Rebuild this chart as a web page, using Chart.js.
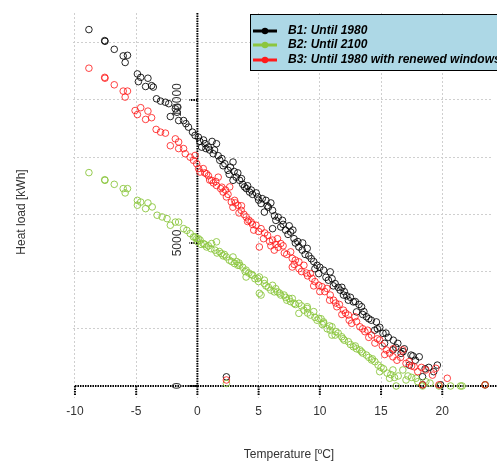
<!DOCTYPE html>
<html>
<head>
<meta charset="utf-8">
<script src="https://cdn.jsdelivr.net/npm/chart.js@4/dist/chart.umd.min.js"></script>
<style>
  html, body { margin: 0; padding: 0; background: #fff; }
  #wrap { width: 497px; height: 463px; position: relative; }
</style>
</head>
<body>
<div id="wrap"><canvas id="heatChart"></canvas></div>
<script>
// Daily heat load against outdoor temperature, three building variants
const b1Temp = [-8.86, -7.57, -7.55, -6.79, -6.06, -5.71, -5.9, -4.9, -4.63, -4.82, -4.04, -4.23, -3.74, -3.6, -3.34, -3.01, -2.61, -2.34, -2.21, -1.8, -1.67, -1.6, -1.53, -1.13, -0.94, -0.73, -0.4, -0.19, 0.08, 0.35, 0.62, 0.89, 1.56, 1.29, 1.83, 2.24, 2.91, 2.5, 3.17, 3.45, 2.91, 3.85, 4.26, 4.93, 5.6, 5.2, 5.47, 6.14, 6.41, 6.95, 6.81, 6.14, 7.62, 7.89, 8.29, 8.97, 8.56, 9.77, 9.91, 10.31, 10.85, 11.25, 11.66, 11.93, 12.33, 12.74, 13.41, 13.0, 13.81, 14.62, 14.48, 15.16, 15.29, 16.37, 15.97, 16.64, 17.45, 18.12, 19.6, 17.31, 18.39, 19.87, 23.5, 18.39, 2.37,
  0.5, 1.0, 1.2, 2.0, 2.6, 3.0, 3.7, 4.0, 4.5, 5.0, 5.8, 6.3, 7.2, 7.5, 8.0, 8.8, 9.3, 9.6, 10.5, 11.0, 11.5, 12.0, 12.5, 13.2, 13.6, 14.0, 14.9, 15.6, 16.0, 16.9, 17.8, 18.6,
  0.2, 0.7, 1.4, 1.7, 2.1, 2.7, 3.3, 3.6, 4.1, 4.4, 4.8, 5.3, 5.7, 6.0, 6.6, 7.0, 7.4, 7.8, 8.2, 8.6, 9.1, 9.5, 10.0, 10.7, 11.1, 11.8, 12.2, 12.9, 13.5, 14.2, 14.7, 15.4, 16.2, 16.8, 17.6, 18.9, 19.3];
const b1Load = [12460, 12075, 12050, 11770, 11540, 11560, 11310, 10910, 10790, 10640, 10760, 10470, 10500, 10450, 10040, 9960, 9920, 9870, 9420, 9690, 9570, 9750, 9280, 9280, 9170, 9050, 8875, 8760, 8700, 8350, 8470, 8350, 8470, 8120, 7890, 7770, 7830, 7540, 7300, 7190, 7190, 6960, 6780, 6610, 6490, 6380, 6080, 6140, 5790, 5790, 5560, 5500, 5380, 5150, 4860, 4810, 4750, 4220, 3930, 4050, 3990, 3580, 3350, 3180, 3000, 2940, 2770, 2590, 2420, 2240, 1950, 1840, 1490, 1490, 1260, 1140, 1080, 1020, 730, 730, 325, 40, 40, 40, 320,
  8600, 8250, 8550, 7950, 7400, 7500, 7050, 6900, 6700, 6500, 6250, 5950, 5450, 5600, 5000, 4600, 4450, 4100, 3800, 3750, 3450, 3300, 3100, 2850, 2600, 2350, 2050, 1700, 1600, 1300, 900, 600,
  8550, 8300, 8250, 8050, 7700, 7650, 7450, 7250, 7000, 6850, 6750, 6550, 6300, 6400, 5900, 5650, 5300, 5450, 5050, 5000, 4550, 4350, 4150, 3700, 3500, 3450, 3150, 2950, 2500, 2300, 2000, 1850, 1350, 1200, 1050, 650, 500];

const b2Temp = [-8.86, -7.57, -7.55, -6.79, -6.06, -5.71, -5.9, -4.9, -4.63, -4.9, -4.04, -4.23, -3.69, -3.29, -2.88, -2.48, -2.21, -1.8, -1.53, -1.13, -0.86, -0.59, -0.32, -0.06, 0.22, -0.19, 0.08, 0.48, 0.75, 1.16, 1.56, 1.43, 1.96, 2.37, 2.91, 3.04, 3.45, 3.98, 4.52, 5.06, 5.47, 5.06, 6.14, 6.54, 7.08, 7.75, 8.29, 8.97, 3.31, 3.98, 4.93, 5.47, 5.2, 6.28, 6.81, 7.49, 7.89, 8.29, 8.97, 9.23, 9.77, 10.31, 10.85, 10.99, 9.91, 10.31, 10.99, 11.25, 11.79, 12.33, 12.74, 13.27, 13.81, 14.22, 14.76, 14.89, 15.7, 15.97, 16.78, 17.04, 17.85, 18.66, 16.24, 18.39, 19.73, 20.68, 21.49, 21.62, 23.5, 2.37,
  0.3, 0.9, 1.8, 2.2, 2.6, 3.2, 3.7, 4.2, 4.7, 5.8, 6.4, 7.2, 7.6, 8.5, 9.5, 10.1, 10.6, 11.5, 12.0, 12.5, 13.0, 13.5, 14.0, 14.5, 15.2, 15.5, 16.4, 17.5,
  0.0, 0.6, 1.1, 1.6, 2.1, 2.8, 3.4, 3.9, 4.4, 5.0, 5.6, 6.0, 6.7, 7.3, 8.0, 8.7, 9.0, 9.6, 10.2, 10.8, 11.3, 11.9, 12.9, 13.4, 14.3, 15.0, 15.8, 16.1, 17.2, 18.0, 19.0];
const b2Load = [7460, 7210, 7190, 7050, 6900, 6900, 6750, 6490, 6430, 6320, 6400, 6200, 6260, 5970, 5910, 5850, 5620, 5730, 5730, 5500, 5440, 5330, 5210, 5150, 5100, 5210, 5150, 4980, 4860, 4980, 5040, 4750, 4630, 4510, 4510, 4280, 4220, 4050, 3870, 3810, 3700, 3240, 3520, 3290, 3180, 3060, 2890, 2770, 4220, 3810, 3760, 3580, 3180, 3290, 3180, 3060, 2890, 2540, 2710, 2480, 2300, 2190, 1950, 1780, 2360, 2240, 2070, 1780, 1720, 1550, 1370, 1260, 1080, 910, 730, 500, 270, 560, 560, 210, 270, 150, 0, 0, 0, 0, 0, 0, 40, 90,
  4950, 4900, 4700, 4600, 4400, 4350, 4150, 3950, 3750, 3450, 3400, 3100, 2950, 2800, 2600, 2350, 2000, 1850, 1600, 1450, 1300, 1150, 1000, 850, 600, 450, 350, 300,
  5050, 4950, 4800, 4650, 4550, 4350, 4300, 4000, 3900, 3650, 3500, 3350, 3250, 3000, 2850, 2650, 2550, 2400, 2150, 2100, 1900, 1650, 1400, 1200, 950, 650, 400, 300, 350, 150, 100];

const b3Temp = [-8.86, -7.57, -7.55, -6.79, -6.06, -5.71, -5.9, -5.09, -4.63, -4.9, -4.04, -4.23, -3.74, -3.37, -3.01, -2.61, -2.21, -1.8, -1.53, -1.53, -1.13, -0.99, -0.59, -0.32, -0.06, 0.22, -0.19, 0.48, 0.75, 1.16, 1.7, 1.56, 2.1, 2.64, 2.37, 2.77, 3.31, 3.04, 3.58, 3.98, 4.39, 4.79, 5.2, 5.06, 5.73, 6.28, 6.14, 6.81, 6.54, 7.62, 7.75, 7.75, 8.29, 8.7, 9.23, 9.37, 9.91, 10.18, 10.58, 10.85, 11.12, 11.39, 11.93, 12.33, 12.87, 12.6, 13.27, 13.68, 14.22, 14.89, 15.43, 15.97, 16.78, 17.04, 17.71, 18.66, 19.47, 20.41, 19.2, 18.39, 19.73, 23.5, 2.37,
  0.9, 1.3, 1.9, 2.3, 2.9, 3.4, 3.8, 4.2, 4.6, 5.5, 5.9, 6.6, 7.0, 7.3, 8.0, 8.5, 9.0, 9.6, 10.4, 11.6, 12.1, 13.0, 13.9, 14.5, 15.1, 15.7, 16.3, 17.3, 18.0,
  0.1, 0.6, 1.0, 1.5, 2.0, 2.5, 3.1, 3.6, 4.1, 4.5, 5.0, 5.4, 6.0, 6.4, 7.1, 7.9, 8.3, 8.9, 9.5, 10.0, 10.8, 11.3, 11.8, 12.4, 13.5, 14.0, 14.7, 15.3, 16.0, 16.6, 17.5, 18.3];
const b3Load = [11110, 10790, 10760, 10530, 10310, 10310, 10100, 9630, 9730, 9490, 9610, 9320, 9380, 8970, 8875, 8840, 8400, 8640, 8530, 8300, 8300, 8120, 8000, 7890, 7770, 7480, 8060, 7600, 7420, 7190, 7300, 7010, 6780, 6960, 6610, 6430, 6320, 6490, 6140, 5910, 5730, 5620, 5500, 4860, 5270, 4750, 5100, 4980, 5150, 4690, 4460, 4160, 4340, 4220, 3930, 3760, 3520, 3470, 3410, 3180, 3000, 2770, 2650, 2480, 2420, 2190, 2070, 1900, 1780, 1610, 1260, 1020, 1260, 790, 670, 560, 620, 270, 380, 40, 40, 40, 210,
  7350, 7100, 6900, 6850, 6250, 6050, 6000, 5800, 5450, 5350, 5050, 4850, 4900, 4600, 4400, 4000, 3850, 3650, 3300, 2850, 2550, 2250, 1950, 1500, 1400, 1150, 900, 850, 500,
  7600, 7450, 7200, 7150, 6950, 6700, 6400, 6300, 5750, 5650, 5400, 5150, 4900, 4950, 4650, 4250, 4100, 3950, 3500, 3300, 3000, 2900, 2500, 2300, 2000, 1700, 1650, 1100, 1300, 1000, 700, 650];

const seriesNames = ['B1: Until 1980', 'B2: Until 2100', 'B3: Until 1980 with renewed windows'];
const seriesColors = ['#000000', '#8cc63f', '#ff1a1a'];
const pointColors = ['rgba(0,0,0,0.85)', 'rgba(140,198,63,0.9)', 'rgba(255,20,20,0.8)'];

const xTicks = [-10, -5, 0, 5, 10, 15, 20];
const xGrid = [-10, -5, 0, 5, 10, 15, 20];
const yTicks = [0, 5000, 10000];
const yGrid = [2000, 4000, 6000, 8000, 10000, 12000];

const FONT = '"Liberation Sans", Arial, sans-serif';

function toPoints(xs, ys) {
    return xs.map((x, i) => ({ x: x, y: ys[i] }));
}

// axes crossing at the origin, R style, plus titles and the legend box
const crossAxes = {
    id: 'crossAxes',
    beforeDatasetsDraw(chart) {
        const ctx = chart.ctx;
        const xs = chart.scales.x, ys = chart.scales.y;
        const x0 = xs.getPixelForValue(0), y0 = ys.getPixelForValue(0);
        ctx.save();
        ctx.strokeStyle = '#000';
        ctx.lineWidth = 2;
        ctx.setLineDash([1.5, 1]);
        // x axis line
        ctx.beginPath();
        ctx.moveTo(xs.getPixelForValue(-10), y0);
        ctx.lineTo(chart.width + 5, y0);
        ctx.stroke();
        // y axis line
        ctx.beginPath();
        ctx.moveTo(x0, chart.chartArea.top);
        ctx.lineTo(x0, y0);
        ctx.stroke();
        // tick marks
        xTicks.forEach(v => {
            const px = xs.getPixelForValue(v);
            ctx.beginPath();
            ctx.moveTo(px, y0);
            ctx.lineTo(px, y0 + 9);
            ctx.stroke();
        });
        yTicks.forEach(v => {
            const py = ys.getPixelForValue(v);
            ctx.beginPath();
            ctx.moveTo(x0, py);
            ctx.lineTo(x0 - 8, py);
            ctx.stroke();
        });
        ctx.restore();
    },
    afterDraw(chart) {
        const ctx = chart.ctx;
        const xs = chart.scales.x, ys = chart.scales.y;
        const y0 = ys.getPixelForValue(0);
        ctx.save();
        ctx.fillStyle = '#333';
        ctx.font = '12px ' + FONT;
        ctx.textAlign = 'center';
        ctx.textBaseline = 'middle';
        xTicks.forEach(v => {
            ctx.fillText(String(v), xs.getPixelForValue(v), y0 + 26);
        });
        yTicks.forEach(v => {
            ctx.save();
            ctx.translate(xs.getPixelForValue(0) - 20, ys.getPixelForValue(v));
            ctx.rotate(-Math.PI / 2);
            ctx.fillText(String(v), 0, 0);
            ctx.restore();
        });

        // axis titles
        ctx.fillText('Temperature [ºC]', 289, 455);
        ctx.save();
        ctx.translate(22, 212);
        ctx.rotate(-Math.PI / 2);
        ctx.fillText('Heat load [kWh]', 0, 0);
        ctx.restore();

        // legend
        ctx.setLineDash([]);
        ctx.fillStyle = '#add8e6';
        ctx.fillRect(250, 14, 300, 56);
        ctx.strokeStyle = '#000';
        ctx.lineWidth = 1;
        ctx.strokeRect(250.5, 14.5, 300, 56);
        const rows = [31, 45, 60];
        ctx.font = 'bold italic 12px ' + FONT;
        ctx.textAlign = 'left';
        seriesNames.forEach((name, i) => {
            const ry = rows[i];
            ctx.strokeStyle = seriesColors[i];
            ctx.lineWidth = 3;
            ctx.beginPath();
            ctx.moveTo(253, ry);
            ctx.lineTo(277, ry);
            ctx.stroke();
            ctx.fillStyle = seriesColors[i];
            ctx.beginPath();
            ctx.arc(265, ry, 3.2, 0, Math.PI * 2);
            ctx.fill();
            ctx.fillStyle = '#000';
            ctx.fillText(name, 288, ry);
        });
        ctx.restore();
    }
};

const datos = [toPoints(b1Temp, b1Load), toPoints(b2Temp, b2Load), toPoints(b3Temp, b3Load)];
const orden = [3, 2, 1];

new Chart(document.getElementById('heatChart'), {
    type: 'scatter',
    data: {
        datasets: datos.map((d, i) => ({
            label: seriesNames[i],
            data: d,
            order: orden[i],
            pointStyle: 'circle',
            pointRadius: 3.3,
            pointHoverRadius: 3.3,
            borderWidth: 1,
            borderColor: pointColors[i],
            backgroundColor: 'rgba(0,0,0,0)'
        }))
    },
    options: {
        responsive: true,
        maintainAspectRatio: false,
        animation: false,
        layout: { padding: { left: 73, right: 0, top: 13, bottom: 65 } },
        plugins: { legend: { display: false }, tooltip: { enabled: false } },
        scales: {
            x: {
                type: 'linear',
                min: -10.16,
                max: 24.12,
                afterBuildTicks: s => { s.ticks = xGrid.map(v => ({ value: v })); },
                ticks: { display: false },
                border: { display: false, dash: [2, 2] },
                grid: { color: '#cfcfcf', lineWidth: 1, drawTicks: false },
                title: { display: false }
            },
            y: {
                type: 'linear',
                min: -420,
                max: 13040,
                afterBuildTicks: s => { s.ticks = yGrid.map(v => ({ value: v })); },
                ticks: { display: false },
                border: { display: false, dash: [2, 2] },
                grid: { color: '#cfcfcf', lineWidth: 1, drawTicks: false },
                title: { display: false }
            }
        }
    },
    plugins: [crossAxes]
});
</script>
</body>
</html>
